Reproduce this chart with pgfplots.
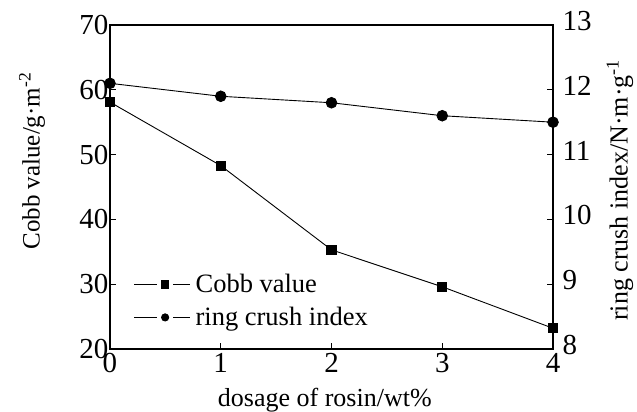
\documentclass[border=0pt]{standalone}
\usepackage{fontspec}
\setmainfont{Liberation Serif}
\usepackage{pgfplots}
\pgfplotsset{compat=1.18}
\begin{document}
\begin{tikzpicture}
\pgfplotsset{
 every axis/.append style={
  scale only axis, width=443pt, height=324pt,
  xmin=0, xmax=4, xtick={0,1,2,3,4},
  tick align=inside, major tick length=6pt,
  tick label style={font=\fontsize{29}{32}\selectfont},
  label style={font=\fontsize{26}{30}\selectfont},
  /pgf/number format/assume math mode=true,
  axis line style={line width=1.3pt},
  tick style={line width=1pt, black},
  xticklabel style={yshift=-1pt},
 }}
\begin{axis}[name=ax,
  ymin=20, ymax=70, ytick={20,30,40,50,60,70},
  xtick pos=bottom, ytick pos=left,
  yticklabel style={xshift=2pt},
  ylabel={Cobb value/g·m\textsuperscript{-2}},
  xlabel={dosage of rosin/wt\%},
  ylabel style={at={(axis description cs:-0.176,0.58)}, anchor=center, font=\fontsize{25}{30}\selectfont},
  xlabel style={at={(axis description cs:0.485,-0.157)}, anchor=center},
  legend style={draw=none, fill=none, at={(0.053,0.06)}, anchor=south west,
    font=\fontsize{26.5}{30}\selectfont, row sep=9pt, inner sep=0pt,
    nodes={inner sep=2pt}, column sep=3pt},
  legend cell align=left,
  legend image code/.code={
    \draw[#1, mark=none] (0pt,0pt)--(23pt,0pt);
    \draw[#1, mark=none] (39pt,0pt)--(56pt,0pt);
    \draw[#1, mark size=3.6pt] plot coordinates {(31pt,0pt)};
  },
]
\addlegendimage{black, line width=0.9pt, mark=square*}
\addlegendentry{Cobb value}
\addlegendimage{black, line width=0.9pt, mark=*}
\addlegendentry{ring crush index}
\addplot[black, line width=0.9pt, mark=square*, mark size=4.6pt, forget plot] coordinates {
 (0,58.1) (1,48.3) (2,35.3) (3,29.6) (4,23.2)};
\end{axis}
\begin{axis}[
  axis y line*=right, hide x axis,
  ymin=8, ymax=13, ytick={8,9,10,11,12,13},
  ylabel={ring crush index/N·m·g\textsuperscript{-1}},
  yticklabel style={yshift=4pt, xshift=6pt},
  ylabel style={at={(axis description cs:1.151,0.49)}, anchor=center},
]
\addplot[black, line width=0.9pt, mark=*, mark size=5.3pt] coordinates {
 (0,12.1) (1,11.9) (2,11.8) (3,11.6) (4,11.5)};
\end{axis}
\pgfresetboundingbox
\path ([xshift=-110pt,yshift=-63pt]ax.south west) rectangle ([xshift=84pt,yshift=25pt]ax.north east);
\end{tikzpicture}
\end{document}
